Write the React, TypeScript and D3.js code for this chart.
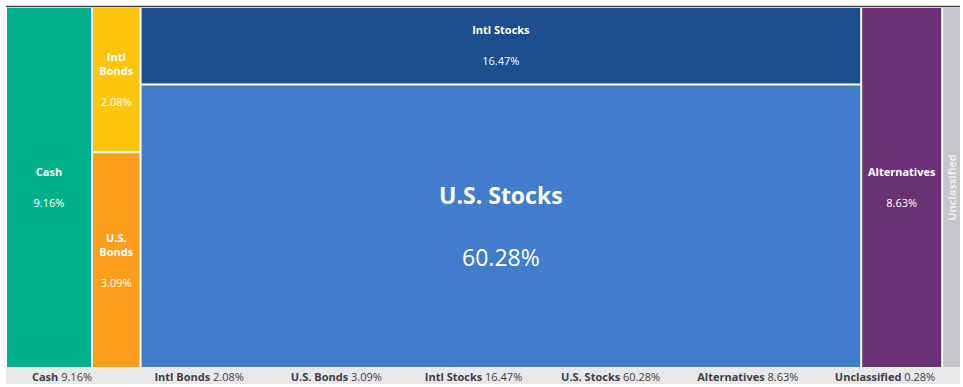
import { useMemo } from "react";
import * as d3 from "d3";

const categories = ["Cash", "Intl Bonds", "U.S. Bonds", "Intl Stocks", "U.S. Stocks", "Alternatives", "Unclassified"];
const shares = [9.16, 2.08, 3.09, 16.47, 60.28, 8.63, 0.28];
const groups = ["Cash", "Bonds", "Bonds", "Stocks", "Stocks", "Alternatives", "Unclassified"];
const colors = ["#01b089", "#fec60b", "#fe9e1a", "#1c4e8e", "#427dcb", "#6a3275", "#c5c6ca"];

const W = 963;
const H = 387;
const LEFT = 7;
const TOP = 8;
const RIGHT = 960;
const BOTTOM = 367;
// tiny slices still get a visible sliver
const MIN_LAYOUT_SHARE = 2;
const FONT = "'Open Sans', 'Segoe UI', sans-serif";

interface Leaf {
  name: string;
  share: number;
  color: string;
}

const fmt = (v: number) => `${v.toFixed(2)}%`;

export default function App() {
  const leaves = useMemo(() => {
    const items: (Leaf & { group: string })[] = categories.map((name, i) => ({
      name,
      share: shares[i],
      color: colors[i],
      group: groups[i],
    }));
    const grouped = d3.groups(items, (d) => d.group).map(([g, ch]) => ({ name: g, children: ch }));
    const root = d3
      .hierarchy<any>({ name: "root", children: grouped })
      .sum((d) => (d.share !== undefined ? Math.max(d.share, MIN_LAYOUT_SHARE) : 0));
    d3
      .treemap<any>()
      .tile(d3.treemapSliceDice)
      .size([RIGHT - LEFT, BOTTOM - TOP])
      .paddingInner(2)(root);
    return root.leaves() as d3.HierarchyRectangularNode<any>[];
  }, []);

  const legendX = d3.scalePoint<string>().domain(categories).range([62, 885]);

  return (
    <svg
      width={W}
      height={H}
      style={{ position: "absolute", left: 0, top: 0, fontFamily: FONT }}
    >
      <rect x={0} y={0} width={W} height={H} fill="#fff" />
      <line x1={6} x2={RIGHT} y1={6.5} y2={6.5} stroke="#3d434b" strokeWidth={1.5} />
      <g transform={`translate(${LEFT},${TOP})`}>
        {leaves.map((n) => {
          const d = n.data as Leaf;
          const w = n.x1 - n.x0;
          const h = n.y1 - n.y0;
          const cx = (n.x0 + n.x1) / 2;
          const cy = (n.y0 + n.y1) / 2;
          const big = w > 300 && h > 150;
          const fs = big ? 23 : 11;
          let label = null;
          if (w < 30) {
            label = (
              <text
                transform={`translate(${cx + 4},${cy}) rotate(-90)`}
                textAnchor="middle"
                fontSize={11}
                fontWeight={700}
                fill="#fff"
                fillOpacity={0.75}
              >
                {d.name}
              </text>
            );
          } else {
            const lines = d.name.length * fs * 0.6 > w - 8 ? d.name.split(" ") : [d.name];
            const lh = 14;
            const capH = fs * 0.72;
            const gap = big ? 62 : 31;
            const block = capH + (lines.length - 1) * lh + gap;
            const top = cy - block / 2 + capH;
            label = (
              <g fill="#fff" textAnchor="middle">
                {lines.map((ln, i) => (
                  <text key={i} x={cx} y={top + i * lh} fontSize={fs} fontWeight={700}>
                    {ln}
                  </text>
                ))}
                <text x={cx} y={top + (lines.length - 1) * lh + gap} fontSize={fs}>
                  {fmt(d.share)}
                </text>
              </g>
            );
          }
          return (
            <g key={d.name}>
              <rect x={n.x0} y={n.y0} width={w} height={h} fill={d.color} />
              {label}
            </g>
          );
        })}
      </g>
      <rect x={6} y={367} width={RIGHT - 6} height={17} fill="#e8e8e8" />
      <g fontSize={11} fill="#3b4048" textAnchor="middle">
        {categories.map((c, i) => (
          <text key={c} x={legendX(c)} y={380.5}>
            <tspan fontWeight={700}>{c}</tspan>
            <tspan> {fmt(shares[i])}</tspan>
          </text>
        ))}
      </g>
    </svg>
  );
}
